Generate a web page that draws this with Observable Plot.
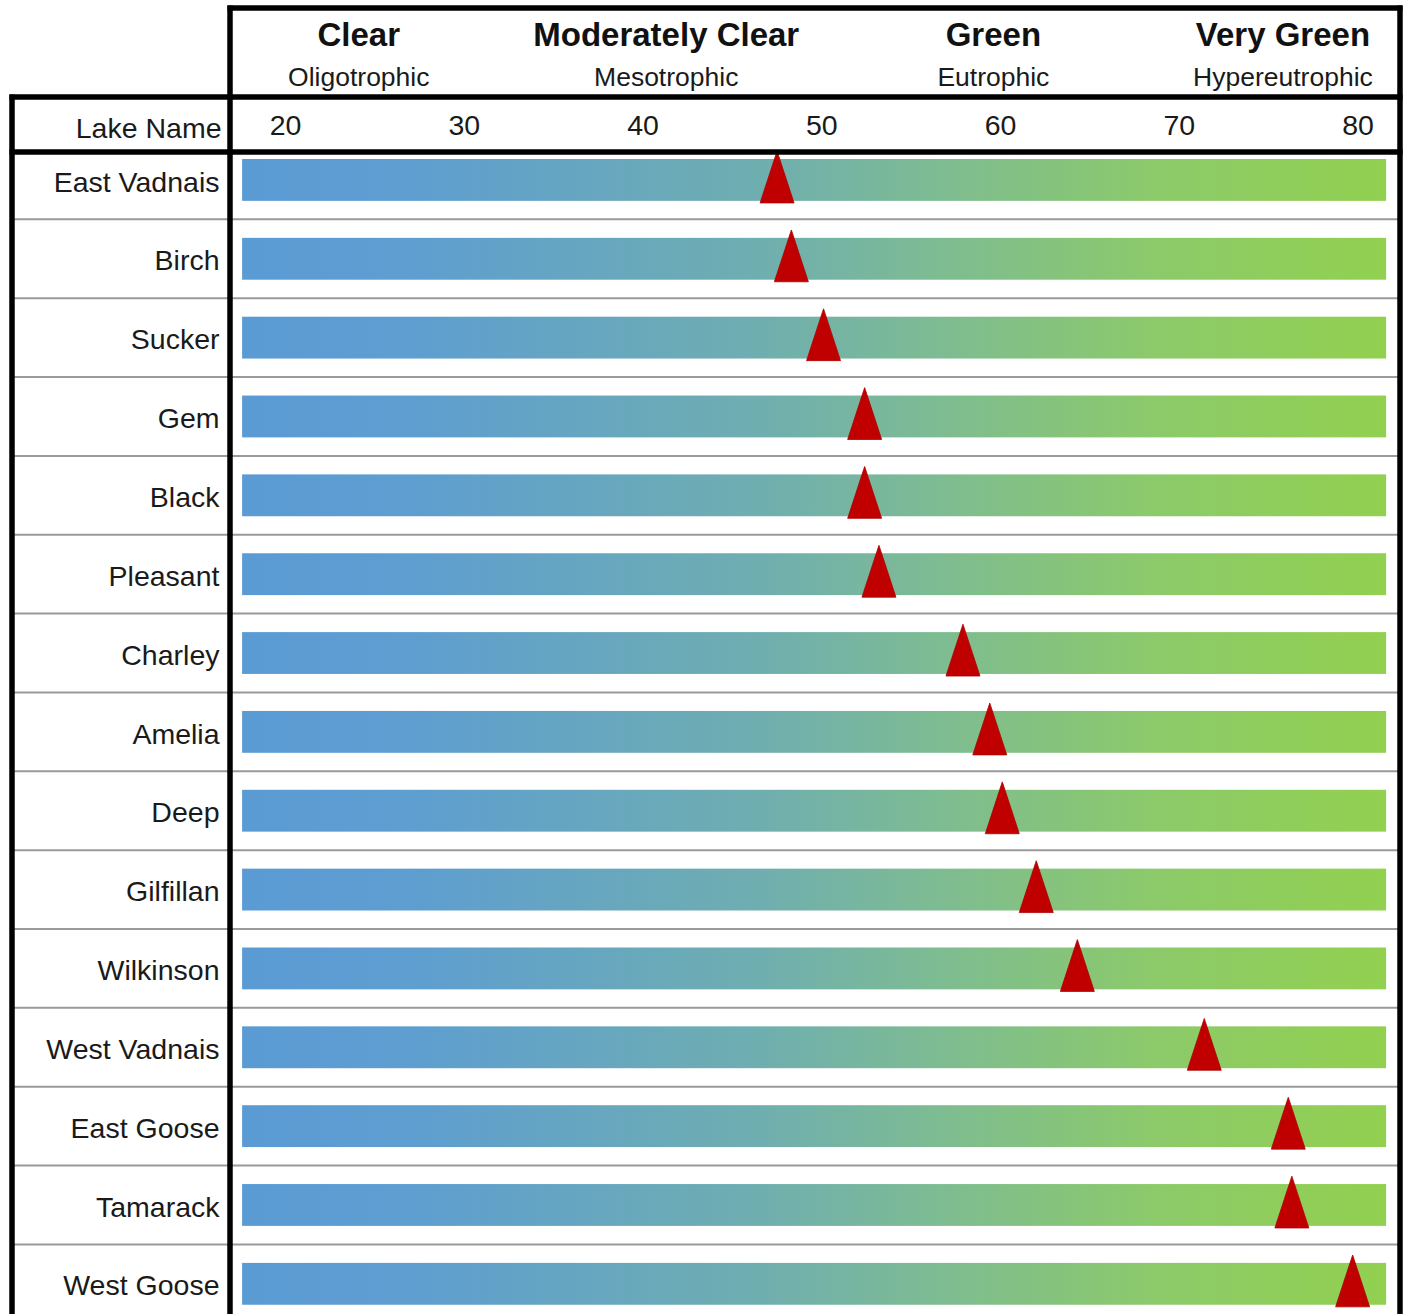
<!DOCTYPE html>
<html><head><meta charset="utf-8">
<script src="https://cdn.jsdelivr.net/npm/d3@7"></script>
<script src="https://cdn.jsdelivr.net/npm/@observablehq/plot@0.6"></script>
<style>body{margin:0;background:#fff}</style>
</head><body><div id="chart"></div>
<script>
// ---- data ----
const lakes = ["East Vadnais","Birch","Sucker","Gem","Black","Pleasant","Charley","Amelia","Deep","Gilfillan","Wilkinson","West Vadnais","East Goose","Tamarack","West Goose"];
const tsi = [47.5,48.3,50.1,52.4,52.4,53.2,57.9,59.4,60.1,62.0,64.3,71.4,76.1,76.3,79.7];
const scaleLow = 17.6, scaleHigh = 81.6;   // extent of the TSI colour bar
const ticks = [20,30,40,50,60,70,80];
const classNames = ["Clear","Moderately Clear","Green","Very Green"];
const classTerms = ["Oligotrophic","Mesotrophic","Eutrophic","Hypereutrophic"];
const classAt = [24.1,41.3,59.6,75.8];

const rows = lakes.map((lake, i) => ({lake, tsi: tsi[i], lo: scaleLow, hi: scaleHigh}));
const classes = classNames.map((name, i) => ({name, term: classTerms[i], at: classAt[i]}));

const W = 1408, H = 1314;
const rowTop = 140.5, rowStep = 78.85;
const font = "'Liberation Sans', Arial, sans-serif";

// tall narrow triangle symbol
const tallTriangle = {
  draw(ctx, size) {
    const r = Math.sqrt(size / Math.PI);
    ctx.moveTo(0, -1.55 * r);
    ctx.lineTo(r, 1.5 * r);
    ctx.lineTo(-r, 1.5 * r);
    ctx.closePath();
  }
};

function defs() {
  const d = d3.create("svg:defs");
  const g = d.append("linearGradient").attr("id", "tsiGrad").attr("x1", "0").attr("x2", "1").attr("y1", "0").attr("y2", "0");
  [[0, "#5B9BD5"], [0.15, "#5E9ED0"], [0.45, "#6FAEB0"], [0.6, "#7DBB94"], [0.8, "#8CCA6A"], [1, "#92D050"]]
    .forEach(([o, c]) => g.append("stop").attr("offset", o).attr("stop-color", c));
  return d.node();
}

function frame(index, scales) {
  const g = d3.create("svg:g");
  const y = scales.y;
  lakes.slice(1).forEach(l => {
    g.append("line").attr("x1", 12).attr("x2", 1400).attr("y1", y(l)).attr("y2", y(l))
      .attr("stroke", "#9a9a9a").attr("stroke-width", 2);
  });
  const thick = (x1, y1, x2, y2) => g.append("line").attr("x1", x1).attr("y1", y1).attr("x2", x2).attr("y2", y2)
      .attr("stroke", "#000").attr("stroke-width", 5.5);
  thick(227.5, 8, 1402.5, 8);
  thick(230, 5.5, 230, H);
  thick(1400, 5.5, 1400, H);
  thick(9.5, 97, 1402.5, 97);
  thick(9.5, 152, 1402.5, 152);
  thick(12, 94.5, 12, H);
  return g.node();
}

const chart = Plot.plot({
  width: W, height: H,
  marginTop: 0, marginRight: 0, marginBottom: 0, marginLeft: 0,
  style: {fontFamily: font, background: "#fff", color: "#1a1a1a"},
  x: {domain: [20, 80], range: [285, 1357.5], axis: null},
  y: {domain: lakes, range: [rowTop, rowTop + rowStep * lakes.length], padding: 0, round: false, axis: null},
  marks: [
    defs,
    Plot.barX(rows, {x1: "lo", x2: "hi", y: "lake", fill: "url(#tsiGrad)", insetTop: 18.5, insetBottom: 18.5}),
    Plot.dot(rows, {x: "tsi", y: "lake", symbol: tallTriangle, r: 17, fill: "#C00000", stroke: "#B00000", strokeWidth: 0.8, dy: -3}),
    Plot.text(rows, {y: "lake", text: "lake", frameAnchor: "left", dx: 219, dy: 2, textAnchor: "end", lineAnchor: "middle", fontSize: 28.5, fill: "#1a1a1a"}),
    Plot.text(["Lake Name"], {text: d => d, frameAnchor: "top-left", dx: 221, dy: 128, textAnchor: "end", lineAnchor: "middle", fontSize: 28.5, fill: "#1a1a1a"}),
    Plot.text(ticks, {x: d => d, text: d => String(d), frameAnchor: "top", dy: 125, lineAnchor: "middle", fontSize: 28.5, fill: "#1a1a1a"}),
    Plot.text(classes, {x: "at", text: "name", frameAnchor: "top", dy: 35, lineAnchor: "middle", fontSize: 33, fontWeight: "bold", fill: "#111"}),
    Plot.text(classes, {x: "at", text: "term", frameAnchor: "top", dy: 77, lineAnchor: "middle", fontSize: 26.5, fill: "#1a1a1a"}),
    frame
  ]
});
document.getElementById("chart").append(chart);
</script>
</body></html>
